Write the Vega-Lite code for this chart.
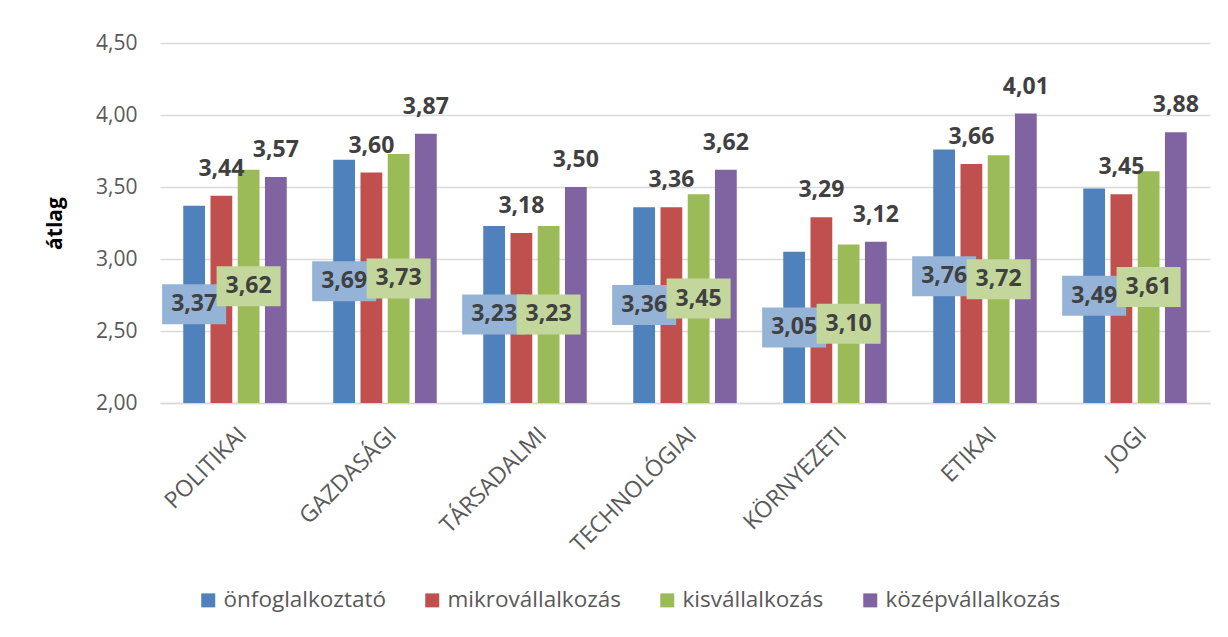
{
  "$schema": "https://vega.github.io/schema/vega-lite/v6.json",
  "width": 1050,
  "height": 360,
  "autosize": "none",
  "padding": {"left": 160, "top": 43, "right": 18, "bottom": 234},
  "background": "white",
  "config": {
    "font": "Open Sans",
    "view": {"stroke": null},
    "locale": {"number": {"decimal": ",", "thousands": " ", "grouping": [3], "currency": ["", " Ft"]}}
  },
  "data": {
    "values": [
      {"kat": "POLITIKAI", "csoport": "önfoglalkoztató", "atlag": 3.37},
      {"kat": "POLITIKAI", "csoport": "mikrovállalkozás", "atlag": 3.44},
      {"kat": "POLITIKAI", "csoport": "kisvállalkozás", "atlag": 3.62},
      {"kat": "POLITIKAI", "csoport": "középvállalkozás", "atlag": 3.57},
      {"kat": "GAZDASÁGI", "csoport": "önfoglalkoztató", "atlag": 3.69},
      {"kat": "GAZDASÁGI", "csoport": "mikrovállalkozás", "atlag": 3.60},
      {"kat": "GAZDASÁGI", "csoport": "kisvállalkozás", "atlag": 3.73},
      {"kat": "GAZDASÁGI", "csoport": "középvállalkozás", "atlag": 3.87},
      {"kat": "TÁRSADALMI", "csoport": "önfoglalkoztató", "atlag": 3.23},
      {"kat": "TÁRSADALMI", "csoport": "mikrovállalkozás", "atlag": 3.18},
      {"kat": "TÁRSADALMI", "csoport": "kisvállalkozás", "atlag": 3.23},
      {"kat": "TÁRSADALMI", "csoport": "középvállalkozás", "atlag": 3.50},
      {"kat": "TECHNOLÓGIAI", "csoport": "önfoglalkoztató", "atlag": 3.36},
      {"kat": "TECHNOLÓGIAI", "csoport": "mikrovállalkozás", "atlag": 3.36},
      {"kat": "TECHNOLÓGIAI", "csoport": "kisvállalkozás", "atlag": 3.45},
      {"kat": "TECHNOLÓGIAI", "csoport": "középvállalkozás", "atlag": 3.62},
      {"kat": "KÖRNYEZETI", "csoport": "önfoglalkoztató", "atlag": 3.05},
      {"kat": "KÖRNYEZETI", "csoport": "mikrovállalkozás", "atlag": 3.29},
      {"kat": "KÖRNYEZETI", "csoport": "kisvállalkozás", "atlag": 3.10},
      {"kat": "KÖRNYEZETI", "csoport": "középvállalkozás", "atlag": 3.12},
      {"kat": "ETIKAI", "csoport": "önfoglalkoztató", "atlag": 3.76},
      {"kat": "ETIKAI", "csoport": "mikrovállalkozás", "atlag": 3.66},
      {"kat": "ETIKAI", "csoport": "kisvállalkozás", "atlag": 3.72},
      {"kat": "ETIKAI", "csoport": "középvállalkozás", "atlag": 4.01},
      {"kat": "JOGI", "csoport": "önfoglalkoztató", "atlag": 3.49},
      {"kat": "JOGI", "csoport": "mikrovállalkozás", "atlag": 3.45},
      {"kat": "JOGI", "csoport": "kisvállalkozás", "atlag": 3.61},
      {"kat": "JOGI", "csoport": "középvállalkozás", "atlag": 3.88}
    ]
  },
  "encoding": {
    "x": {
      "field": "kat",
      "type": "nominal",
      "sort": ["POLITIKAI", "GAZDASÁGI", "TÁRSADALMI", "TECHNOLÓGIAI", "KÖRNYEZETI", "ETIKAI", "JOGI"],
      "scale": {"paddingInner": 0.31, "paddingOuter": 0.155},
      "axis": {
        "title": null,
        "labelAngle": -45,
        "labelFontSize": 23,
        "labelColor": "#595959",
        "labelPadding": 20,
        "labelDx": 6,
        "ticks": false,
        "domainColor": "#D9D9D9",
        "domainWidth": 1.5,
        "grid": false
      }
    },
    "xOffset": {
      "field": "csoport",
      "type": "nominal",
      "sort": ["önfoglalkoztató", "mikrovállalkozás", "kisvállalkozás", "középvállalkozás"],
      "scale": {"domain": ["önfoglalkoztató", "mikrovállalkozás", "kisvállalkozás", "középvállalkozás"], "paddingInner": 0.2, "paddingOuter": 0}
    }
  },
  "layer": [
    {
      "mark": {"type": "bar"},
      "encoding": {
        "y": {
          "field": "atlag",
          "type": "quantitative",
          "scale": {"domain": [2, 4.5], "nice": false, "zero": false},
          "axis": {
            "title": "átlag",
            "titleFontSize": 21,
            "titleFontWeight": "bold",
            "titleColor": "#000000",
            "titlePadding": 30,
            "values": [2, 2.5, 3, 3.5, 4, 4.5],
            "format": ".2f",
            "labelFontSize": 21,
            "labelColor": "#595959",
            "labelPadding": 23,
            "ticks": false,
            "domain": false,
            "gridColor": "#D9D9D9",
            "gridWidth": 1.5
          }
        },
        "y2": {"datum": 2},
        "color": {
          "field": "csoport",
          "type": "nominal",
          "sort": ["önfoglalkoztató", "mikrovállalkozás", "kisvállalkozás", "középvállalkozás"],
          "scale": {
            "domain": ["önfoglalkoztató", "mikrovállalkozás", "kisvállalkozás", "középvállalkozás"],
            "range": ["#4F81BD", "#C0504D", "#9BBB59", "#8064A2"]
          },
          "legend": {
            "title": null,
            "orient": "none",
            "direction": "horizontal",
            "legendX": 37,
            "legendY": 546,
            "symbolType": "square",
            "symbolSize": 196,
            "symbolStrokeWidth": 0,
            "symbolOpacity": 1,
            "labelFontSize": 22.5,
            "labelColor": "#595959",
            "labelOffset": 4,
            "columnPadding": 35,
            "labelLimit": 400
          }
        }
      }
    },
    {
      "transform": [{"filter": "datum.csoport === 'mikrovállalkozás' || datum.csoport === 'középvállalkozás'"}],
      "mark": {"type": "text", "baseline": "alphabetic", "dy": -20, "fontSize": 23, "fontWeight": "bold", "color": "#404040"},
      "encoding": {
        "y": {"field": "atlag", "type": "quantitative", "scale": {"domain": [2, 4.5], "nice": false, "zero": false}, "axis": null},
        "text": {"field": "atlag", "type": "quantitative", "format": ".2f"}
      }
    },
    {
      "transform": [{"filter": "datum.csoport === 'önfoglalkoztató' || datum.csoport === 'kisvállalkozás'"}],
      "mark": {"type": "point", "shape": "M-1.6,-1H1.6V1H-1.6Z", "size": 1600, "filled": true, "opacity": 1, "strokeWidth": 0},
      "encoding": {
        "y": {"field": "atlag", "type": "quantitative", "scale": {"domain": [2, 7], "nice": false, "zero": false}, "axis": null},
        "fill": {
          "field": "csoport",
          "type": "nominal",
          "scale": {"domain": ["önfoglalkoztató", "kisvállalkozás"], "range": ["#95B3D7", "#C3D69B"]},
          "legend": null
        }
      }
    },
    {
      "transform": [{"filter": "datum.csoport === 'önfoglalkoztató' || datum.csoport === 'kisvállalkozás'"}],
      "mark": {"type": "text", "baseline": "middle", "fontSize": 23, "fontWeight": "bold", "color": "#404040"},
      "encoding": {
        "y": {"field": "atlag", "type": "quantitative", "scale": {"domain": [2, 7], "nice": false, "zero": false}, "axis": null},
        "text": {"field": "atlag", "type": "quantitative", "format": ".2f"}
      }
    }
  ],
  "resolve": {"scale": {"y": "independent"}}
}
